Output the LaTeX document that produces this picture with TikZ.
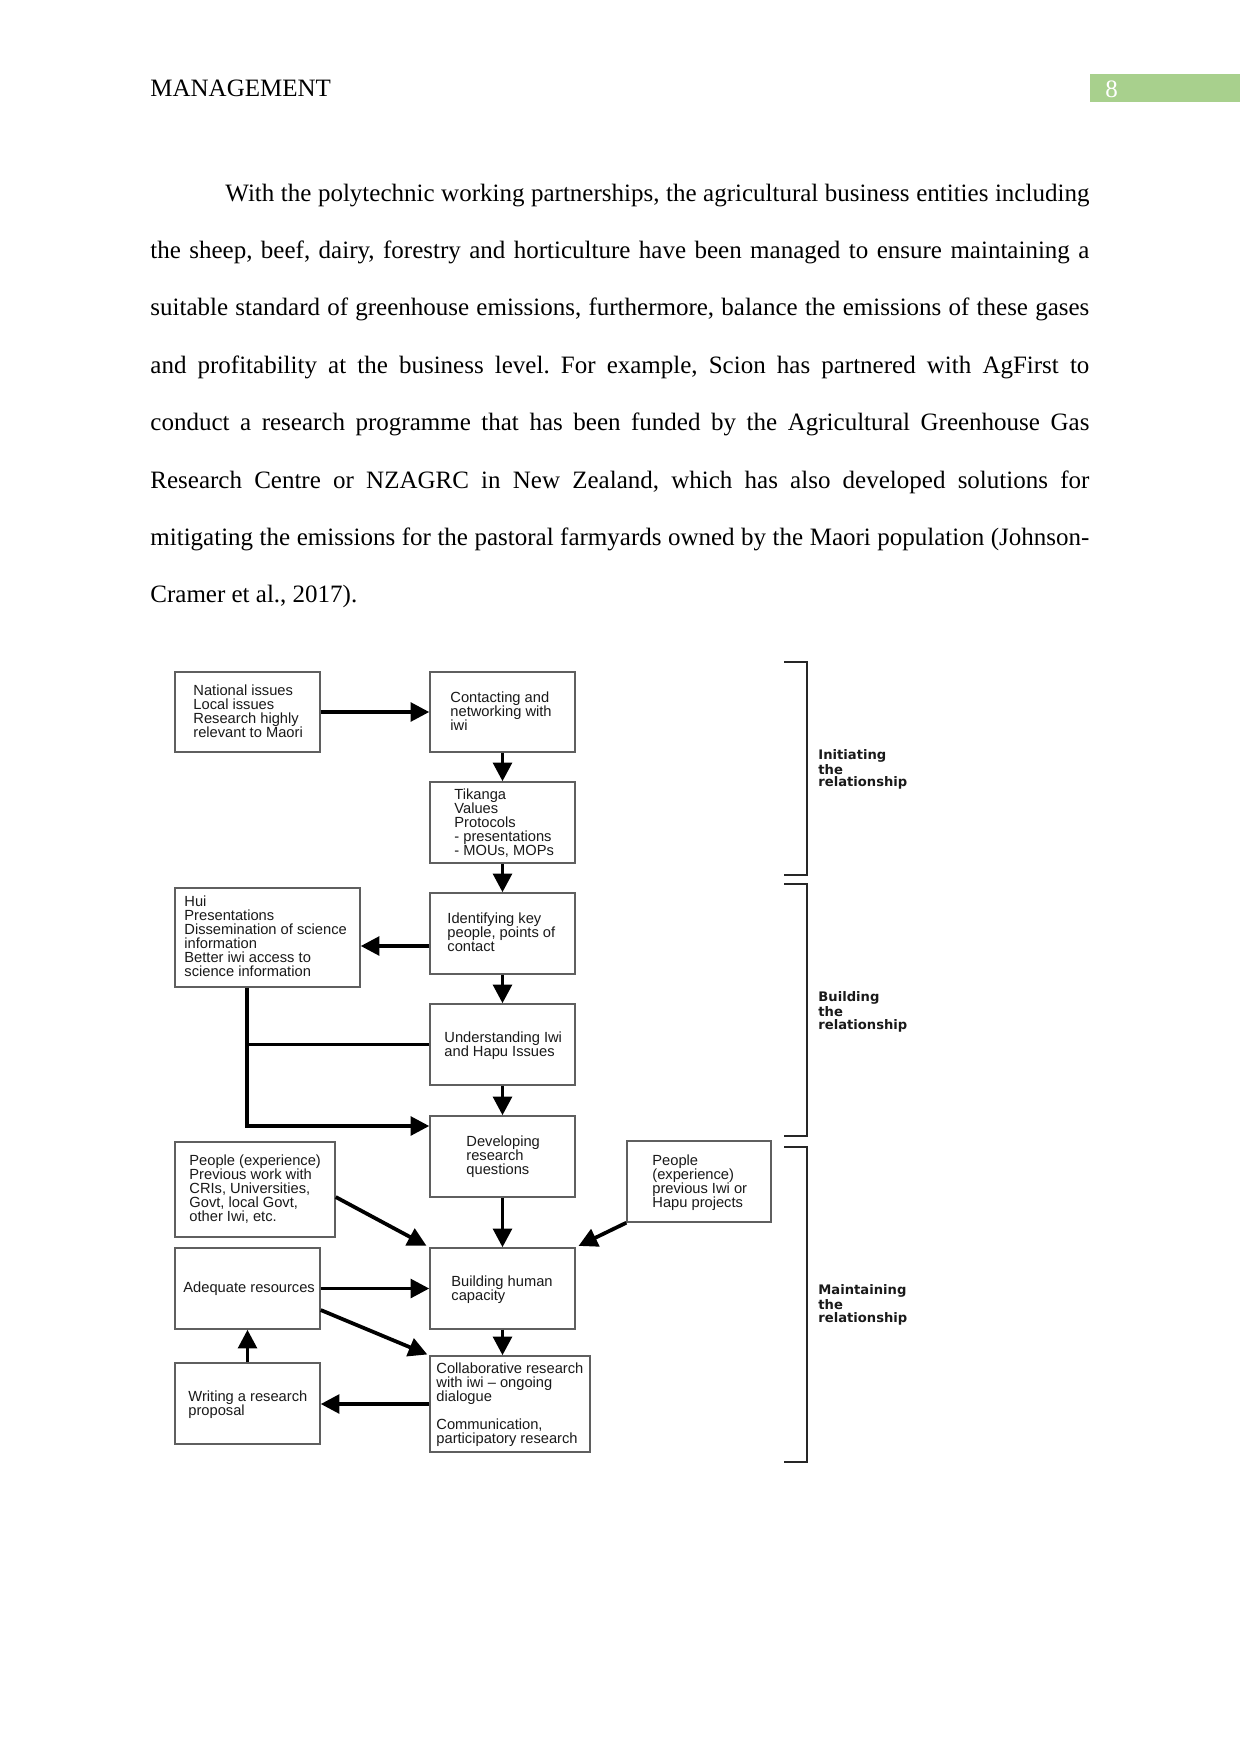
\documentclass[tikz,border=0pt]{standalone}
\usepackage{fontspec}
\setmainfont{Liberation Serif}
\newfontfamily\boxfont{Liberation Sans}
\newfontfamily\lblfont{DejaVu Sans}
\usetikzlibrary{arrows.meta,fit}
\definecolor{hdrgreen}{RGB}{168,208,141}
\definecolor{boxgray}{RGB}{95,95,95}
\frenchspacing
\begin{document}
\begin{tikzpicture}[x=0.48pt,y=-0.48pt,
  box/.style={draw=boxgray,line width=0.7pt,inner sep=0pt},
  txt/.style={anchor=north west,inner sep=0pt,align=left,font=\boxfont\fontsize{7.05}{6.72}\selectfont,text=black!90},
  arr/.style={line width=1.8pt,-{Triangle[length=9pt,width=9pt]}},
  ln/.style={line width=1.8pt},
  brk/.style={line width=1pt,draw=black!85},
  lbl/.style={anchor=north west,inner sep=0pt,align=left,font=\lblfont\bfseries\fontsize{6.3}{6.1}\selectfont,text=black!90},
  para/.style={anchor=base west,inner sep=0pt,font=\fontsize{12}{14}\selectfont}]
\fill[white] (0,0) rectangle (1241,1754);
\useasboundingbox (0,0) rectangle (1241,1754);

% header
\node[para] (hdr) at (150,96) {MANAGEMENT};
\node[fill=hdrgreen,inner sep=0pt,fit={(1090,74)(1240,102)}] (pgbox) {};
\node[para,text=white] (pgn) at (1105,97) {8};

% paragraph
\node[para] (p1) at (225,201) {\makebox[414.7pt][s]{With the polytechnic working partnerships, the agricultural business entities including}};
\node[para] (p2) at (150,258.4) {\makebox[450.7pt][s]{the sheep, beef, dairy, forestry and horticulture have been managed to ensure maintaining a}};
\node[para] (p3) at (150,315.8) {\makebox[450.7pt][s]{suitable standard of greenhouse emissions, furthermore, balance the emissions of these gases}};
\node[para] (p4) at (150,373.2) {\makebox[450.7pt][s]{and profitability at the business level. For example, Scion has partnered with AgFirst to}};
\node[para] (p5) at (150,430.6) {\makebox[450.7pt][s]{conduct a research programme that has been funded by the Agricultural Greenhouse Gas}};
\node[para] (p6) at (150,488) {\makebox[450.7pt][s]{Research Centre or NZAGRC in New Zealand, which has also developed solutions for}};
\node[para] (p7) at (150,545.4) {\makebox[450.7pt][s]{mitigating the emissions for the pastoral farmyards owned by the Maori population (Johnson-}};
\node[para] (p8) at (150,602.8) {Cramer et al., 2017).};

% boxes
\node[box,fit={(175,672)(320,752)}] (nat) {};
\node[box,fit={(430,672)(575,752)}] (con) {};
\node[box,fit={(430,782)(575,863)}] (tik) {};
\node[box,fit={(175,888)(360,987)}] (hui) {};
\node[box,fit={(430,893)(575,974)}] (ide) {};
\node[box,fit={(430,1004)(575,1085)}] (und) {};
\node[box,fit={(430,1116)(575,1197)}] (dev) {};
\node[box,fit={(175,1142)(335,1237)}] (pl) {};
\node[box,fit={(627,1141)(771,1222)}] (pr) {};
\node[box,fit={(175,1248)(320,1329)}] (adq) {};
\node[box,fit={(430,1248)(575,1329)}] (bld) {};
\node[box,fit={(430,1356)(590,1452)}] (col) {};
\node[box,fit={(175,1363)(320,1444)}] (wri) {};

% box texts
\node[txt] (natt) at (193,684) {National issues\\Local issues\\Research highly\\relevant to Maori};
\node[txt] (cont) at (450,691) {Contacting and\\networking with\\iwi};
\node[txt] (tikt) at (454,788) {Tikanga\\Values\\Protocols\\- presentations\\- MOUs, MOPs};
\node[txt] (huit) at (184,895) {Hui\\Presentations\\Dissemination of science\\information\\Better iwi access to\\science information};
\node[txt] (idet) at (447,912) {Identifying key\\people, points of\\contact};
\node[txt] (undt) at (444,1031) {Understanding Iwi\\and Hapu Issues};
\node[txt] (devt) at (466,1135) {Developing\\research\\questions};
\node[txt] (plt) at (189,1154) {People (experience)\\Previous work with\\CRIs, Universities,\\Govt, local Govt,\\other Iwi, etc.};
\node[txt] (prt) at (652,1154) {People\\(experience)\\previous Iwi or\\Hapu projects};
\node[txt] (adqt) at (183,1281) {Adequate resources};
\node[txt] (bldt) at (451,1275) {Building human\\capacity};
\node[txt] (colt) at (436,1362) {Collaborative research\\with iwi \textendash{} ongoing\\dialogue\\[6.72pt]Communication,\\participatory research};
\node[txt] (writ) at (188,1390) {Writing a research\\proposal};

% stage labels
\node[lbl] (l1) at (818,749) {Initiating\\the\\relationship};
\node[lbl] (l2) at (818,991) {Building\\the\\relationship};
\node[lbl] (l3) at (818,1284) {Maintaining\\the\\relationship};

% brackets
\draw[brk] (784,662) -- (807,662) -- (807,875) -- (784,875);
\draw[brk] (784,884) -- (807,884) -- (807,1136) -- (784,1136);
\draw[brk] (784,1147) -- (807,1147) -- (807,1462) -- (784,1462);

% connectors
\coordinate (a4) at (430,946);
\coordinate (j1) at (247,1126);
\coordinate (s2) at (320,1310);
\coordinate (s1) at (335,1197);
\draw[arr] (nat.east) -- (con.west);
\draw[arr] (con.south) -- (tik.north);
\draw[arr] (tik.south) -- (ide.north);
\draw[arr] (ide.west |- a4) -- (hui.east |- a4);
\draw[arr] (ide.south) -- (und.north);
\draw[arr] (und.south) -- (dev.north);
\draw[arr] (hui.south -| j1) -- (j1) -- (dev.west |- j1);
\draw[ln] (und.west) -- (und.west -| j1);
\draw[arr] (dev.south) -- (bld.north);
\draw[arr,shorten >=1.5pt] (pl.east |- s1) -- (bld.north west);
\draw[arr,shorten >=1.5pt] (pr.south west) -- (bld.north east);
\draw[arr] (adq.east) -- (bld.west);
\draw[arr,shorten >=1pt] (adq.east |- s2) -- (col.north west);
\draw[arr] (bld.south) -- (bld.south |- col.north);
\draw[arr] (col.west) -- (wri.east |- col.west);
\draw[arr] (wri.north) -- (adq.south);
\end{tikzpicture}
\end{document}
